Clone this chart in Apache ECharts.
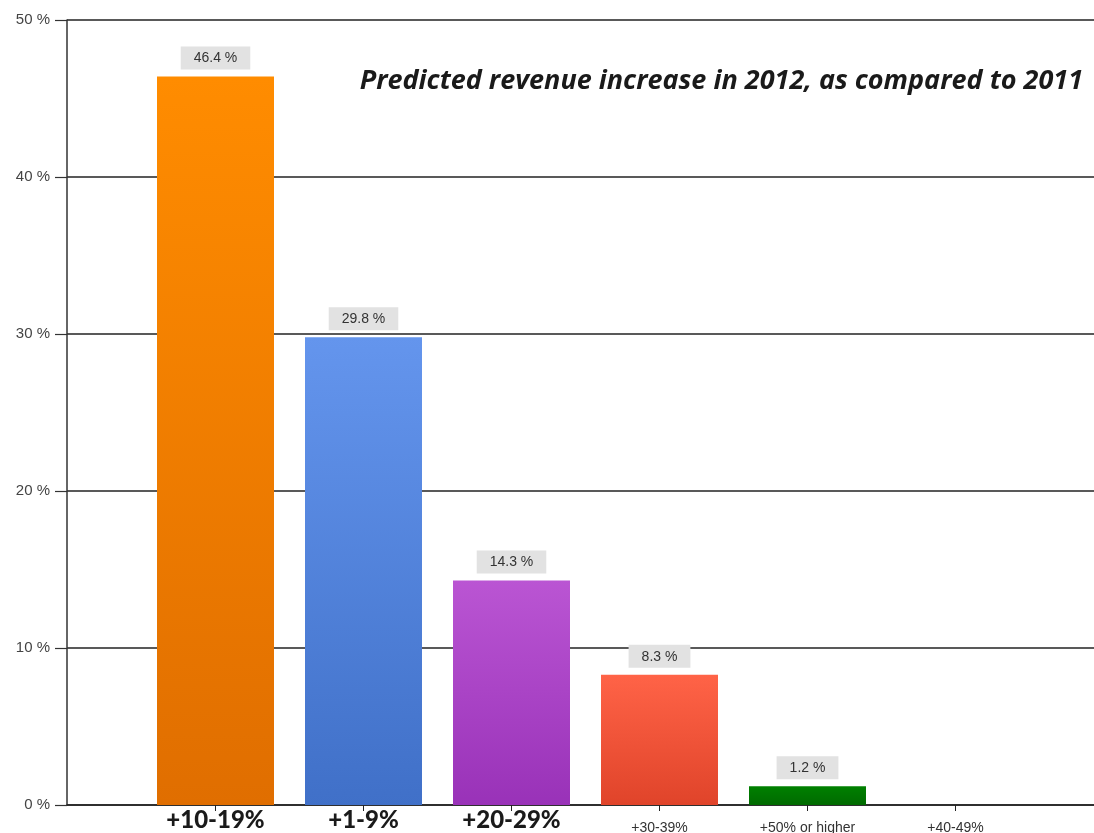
<!DOCTYPE html>
<html>
<head>
<meta charset="utf-8">
<style>
  html, body { margin: 0; padding: 0; background: #fff; }
  #chart { width: 1094px; height: 833px; }
</style>
<script src="https://cdn.jsdelivr.net/npm/echarts@6/dist/echarts.min.js"></script>
</head>
<body>
<div id="chart"></div>
<script>
// Revenue growth buckets and the share of respondents in each
const categories = ['+10-19%', '+1-9%', '+20-29%', '+30-39%', '+50% or higher', '+40-49%'];
const shares = [46.4, 29.8, 14.3, 8.3, 1.2, 0];
const yTicks = [0, 10, 20, 30, 40, 50];
const titleText = 'Predicted revenue increase in 2012, as compared to 2011';

// top / bottom colours of each bar's vertical gradient
const barTop = ['#ff8c00', '#6495ed', '#ba55d3', '#ff6347', '#008000', '#808080'];
const barBottom = ['#e06e00', '#4070c8', '#9932b8', '#e0442a', '#006a00', '#606060'];

const chart = echarts.init(document.getElementById('chart'));

const barData = shares.map((v, i) => ({
  value: v,
  itemStyle: {
    color: new echarts.graphic.LinearGradient(0, 0, 0, 1, [
      { offset: 0, color: barTop[i] },
      { offset: 1, color: barBottom[i] }
    ])
  },
  label: { show: v > 0 }
}));

chart.setOption({
  animation: false,
  backgroundColor: '#ffffff',
  title: {
    text: titleText,
    right: 6,
    top: 63,
    textStyle: {
      fontFamily: 'Open Sans',
      fontStyle: 'italic',
      fontWeight: 700,
      fontSize: 27,
      color: '#1a1a1a'
    }
  },
  grid: [
    { left: 67, right: 0, top: 20, bottom: 28, containLabel: false, outerBoundsMode: 'none' },
    { left: 141.5, width: 888, top: 20, bottom: 28, containLabel: false, outerBoundsMode: 'none' }
  ],
  xAxis: [
    {
      gridIndex: 0,
      type: 'value',
      min: 0, max: 1,
      axisLine: { show: true, onZero: false, lineStyle: { color: '#222', width: 1.5 } },
      axisTick: { show: false },
      axisLabel: { show: false },
      splitLine: { show: false }
    },
    {
      gridIndex: 1,
      type: 'category',
      data: categories,
      axisLine: { show: false },
      axisTick: { show: true, alignWithLabel: true, length: 6, lineStyle: { color: '#222' } },
      axisLabel: {
        interval: 0,
        margin: 3,
        formatter: (val, idx) => idx < 3 ? '{b|' + val + '}' : '{s|' + val + '}',
        rich: {
          b: { fontFamily: 'Lato', fontWeight: 900, fontSize: 24, color: '#1a1a1a', lineHeight: 24 },
          s: { fontFamily: 'Liberation Sans', fontSize: 14, color: '#333', lineHeight: 30, padding: [10, 0, 0, 0] }
        }
      }
    }
  ],
  yAxis: [
    {
      gridIndex: 0,
      type: 'value',
      min: 0, max: 50, interval: 10,
      axisLine: { show: true, lineStyle: { color: '#333', width: 1.5 } },
      axisTick: { show: true, length: 12, lineStyle: { color: '#333', width: 1.2 } },
      axisLabel: {
        margin: 17,
        fontFamily: 'Liberation Sans',
        fontSize: 15,
        color: '#444',
        formatter: v => v + ' %'
      },
      splitLine: { show: true, lineStyle: { color: '#222', width: 1.5 } }
    },
    {
      gridIndex: 1,
      type: 'value',
      min: 0, max: 50, interval: 10,
      show: false
    }
  ],
  series: [
    {
      type: 'bar',
      xAxisIndex: 1,
      yAxisIndex: 1,
      data: barData,
      barWidth: 117,
      label: {
        show: true,
        position: 'top',
        distance: 7,
        formatter: p => p.value.toFixed(1) + ' %',
        fontFamily: 'Liberation Sans',
        fontSize: 14,
        color: '#333',
        backgroundColor: '#e2e2e2',
        padding: [5, 13, 4, 13]
      }
    }
  ]
});
</script>
</body>
</html>
